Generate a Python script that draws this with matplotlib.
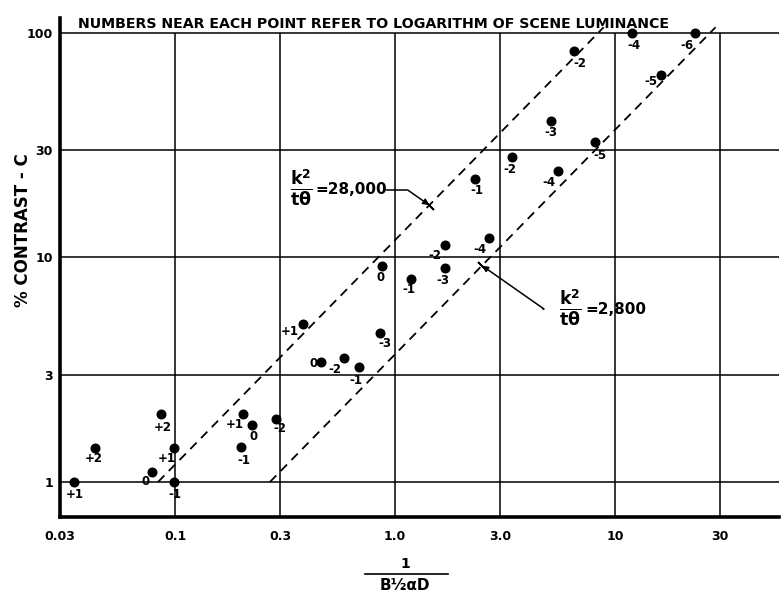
import numpy as np
import matplotlib
matplotlib.use('Agg')
import matplotlib.pyplot as plt

# data
x_vals = [0.0347, 0.0433, 0.0786, 0.0864, 0.099, 0.099, 0.204, 0.224, 0.200, 0.288,
          0.382, 0.461, 0.586, 0.686, 0.855, 0.873, 1.18, 1.69, 1.69, 2.68,
          2.31, 3.40, 6.51, 11.9, 23.1, 16.2, 5.12, 8.11, 5.51]
contrast = [1.00, 1.42, 1.11, 2.01, 1.42, 1.00, 2.01, 1.79, 1.43, 1.91,
            5.05, 3.42, 3.57, 3.25, 4.61, 9.17, 8.02, 11.4, 8.98, 12.2,
            22.4, 28.0, 83.0, 100.0, 100.0, 65.0, 40.5, 32.7, 24.3]
log_lum = ['+1', '+2', '0', '+2', '+1', '-1', '+1', '0', '-1', '-2',
           '+1', '0', '-2', '-1', '-3', '0', '-1', '-2', '-3', '-4',
           '-1', '-2', '-2', '-4', '-6', '-5', '-3', '-5', '-4']

# where each number sits relative to its point (pixels, right / down)
label_offsets = [(1, 13), (-1, 11), (-6, 10), (2, 14), (-7, 11), (1, 13), (-8, 11), (1, 11),
                 (3, 13), (4, 10), (-13, 7), (-8, 1), (-9, 12), (-3, 13), (5, 11), (-2, 12),
                 (-2, 11), (-10, 11), (-2, 13), (-9, 11), (2, 12), (-2, 12), (6, 12), (2, 13),
                 (-8, 13), (-10, 7), (0, 11), (5, 14), (-9, 12)]

# the two k^2/(t theta) lines: value of x where C = 1
k2_labels = ['28,000', '2,800']
x_at_c1 = [0.0837, 0.27]
c_range = [1.0, 106.0]

x_ticks = [0.03, 0.1, 0.3, 1.0, 3.0, 10, 30]
x_tick_labels = ['0.03', '0.1', '0.3', '1.0', '3.0', '10', '30']
y_ticks = [1, 3, 10, 30, 100]
y_tick_labels = ['1', '3', '10', '30', '100']

plt.rcParams['font.family'] = ['DejaVu Sans']
plt.rcParams['font.weight'] = 'bold'

W, H = 784, 593
fig = plt.figure(figsize=(W / 100, H / 100), dpi=100)
ax = fig.add_axes([60 / W, 1 - 517 / H, (779 - 60) / W, (517 - 18) / H])
ax.set_xscale('log')
ax.set_yscale('log')
ax.set_xlim(0.03, 55.6)
ax.set_ylim(0.698, 116.6)

for s in ['top', 'right']:
    ax.spines[s].set_visible(False)
for s in ['left', 'bottom']:
    ax.spines[s].set_linewidth(2.6)

# grid: horizontal lines full width, vertical lines stop at 100
for yv in y_ticks:
    ax.axhline(yv, color='black', lw=1.1, zorder=1)
ax.vlines(x_ticks[1:], ax.get_ylim()[0], 100, color='black', lw=1.1, zorder=1)

ax.set_xticks(x_ticks)
ax.set_xticklabels(x_tick_labels)
ax.set_yticks(y_ticks)
ax.set_yticklabels(y_tick_labels)
ax.minorticks_off()
ax.tick_params(length=0, labelsize=9)
ax.tick_params(axis='x', pad=9)
ax.tick_params(axis='y', pad=5)

# dashed lines, slope 1 in log-log
for x0 in x_at_c1:
    c = np.array(c_range)
    ax.plot(x0 * c, c, color='black', lw=1.3, linestyle=(0, (5, 3.5)), zorder=2)

ax.plot(x_vals, contrast, 'o', color='black', markersize=6.2, zorder=3, clip_on=False)
for xv, yv, lab, (dx, dy) in zip(x_vals, contrast, log_lum, label_offsets):
    ax.annotate(lab, (xv, yv), xytext=(dx * 0.72, -dy * 0.72), textcoords='offset points',
                ha='center', va='center', fontsize=8.5, fontweight='bold')

# line labels with arrows
frac = r'$\mathbf{\frac{k^2}{t\theta}}$'
arrow_kw = dict(arrowstyle='-|>', color='black', lw=1.1, mutation_scale=9, shrinkA=0, shrinkB=0)

c_up = 17.1
ax.annotate('', xy=(x_at_c1[0] * c_up, c_up), xytext=(386, 593 - 190), textcoords='figure pixels',
            arrowprops=dict(connectionstyle='angle,angleA=0,angleB=-35,rad=0', **arrow_kw))
ax.plot([x_at_c1[0] * c_up], [c_up], marker=(2, 2, 45), markersize=9, mew=1.2, color='black')
fig.text(301 / W, 1 - 188 / H, frac, fontsize=18, ha='center', va='center')
fig.text(315 / W, 1 - 190 / H, '=' + k2_labels[0], fontsize=11, ha='left', va='center')

c_lo = 9.2
ax.annotate('', xy=(x_at_c1[1] * c_lo, c_lo), xytext=(543, 593 - 309), textcoords='figure pixels',
            arrowprops=dict(connectionstyle='angle,angleA=180,angleB=-35,rad=0', **arrow_kw))
ax.plot([x_at_c1[1] * c_lo], [c_lo], marker=(2, 2, 45), markersize=9, mew=1.2, color='black')
fig.text(570 / W, 1 - 308 / H, frac, fontsize=18, ha='center', va='center')
fig.text(585 / W, 1 - 310 / H, '=' + k2_labels[1], fontsize=11, ha='left', va='center')

fig.text(78 / W, 1 - 24 / H, 'NUMBERS NEAR EACH POINT REFER TO LOGARITHM OF SCENE LUMINANCE',
         fontsize=10.2, ha='left', va='center')
fig.text(23 / W, 1 - 230 / H, '% CONTRAST - C', rotation=90, fontsize=12, ha='center', va='center')

# x axis label as a fraction
fig.text(405 / W, 1 - 564 / H, '1', fontsize=10, ha='center', va='center')
fig.add_artist(plt.Line2D([365 / W, 448 / W], [1 - 574 / H, 1 - 574 / H], color='black', lw=1.2))
fig.text(405 / W, 1 - 586 / H, 'B½αD', fontsize=11, ha='center', va='center')

fig.savefig('out.png', dpi=100)
